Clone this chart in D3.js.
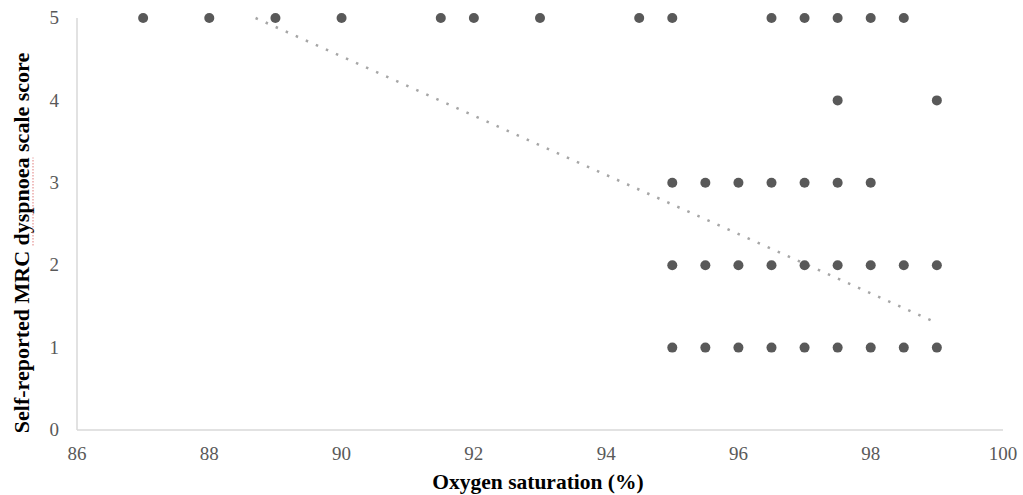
<!DOCTYPE html>
<html>
<head>
<meta charset="utf-8">
<script src="https://cdn.jsdelivr.net/npm/d3@7"></script>
<style>
  body { margin: 0; background: #fff; }
  text { font-family: "Liberation Serif", "Times New Roman", serif; }
</style>
</head>
<body>
<svg id="chart" width="1023" height="495"></svg>
<script>
// oxygen saturation (%) vs MRC score
var score5 = [87, 88, 89, 90, 91.5, 92, 93, 94.5, 95, 96.5, 97, 97.5, 98, 98.5];
var score4 = [97.5, 99];
var score3 = [95, 95.5, 96, 96.5, 97, 97.5, 98];
var score2 = [95, 95.5, 96, 96.5, 97, 97.5, 98, 98.5, 99];
var score1 = [95, 95.5, 96, 96.5, 97, 97.5, 98, 98.5, 99];

// linear trendline end points (dotted)
var trendX = [88.7, 99];
var trendY = [5, 1.3];

var xTicks = [86, 88, 90, 92, 94, 96, 98, 100];
var yTicks = [0, 1, 2, 3, 4, 5];

var svg = d3.select("#chart");

var x = d3.scaleLinear().domain([86, 100]).range([77, 1003]);
var y = d3.scaleLinear().domain([0, 5]).range([430, 18]);

var points = [];
[[5, score5], [4, score4], [3, score3], [2, score2], [1, score1]].forEach(function(row) {
  row[1].forEach(function(v) { points.push({x: v, y: row[0]}); });
});

// axis lines
var axisColor = "#d9d9d9";
svg.append("line")
    .attr("x1", x(86)).attr("x2", x(86))
    .attr("y1", y(5)).attr("y2", y(0))
    .attr("stroke", axisColor).attr("stroke-width", 1.5);
svg.append("line")
    .attr("x1", x(86)).attr("x2", x(100))
    .attr("y1", y(0)).attr("y2", y(0))
    .attr("stroke", axisColor).attr("stroke-width", 1.5);

// tick labels
svg.append("g").selectAll("text")
    .data(xTicks)
    .enter().append("text")
    .attr("x", function(d) { return x(d); })
    .attr("y", 460)
    .attr("text-anchor", "middle")
    .attr("font-size", 19)
    .attr("fill", "#595959")
    .text(function(d) { return d; });

svg.append("g").selectAll("text")
    .data(yTicks)
    .enter().append("text")
    .attr("x", 59)
    .attr("y", function(d) { return y(d); })
    .attr("dy", "0.33em")
    .attr("text-anchor", "end")
    .attr("font-size", 19)
    .attr("fill", "#595959")
    .text(function(d) { return d; });

// trendline
var trend = trendX.map(function(v, i) { return [x(v), y(trendY[i])]; });
svg.append("path")
    .attr("d", d3.line()(trend))
    .attr("fill", "none")
    .attr("stroke", "#a6a6a6")
    .attr("stroke-width", 2.5)
    .attr("stroke-dasharray", "2.5,8.5");

// points
svg.append("g").selectAll("circle")
    .data(points)
    .enter().append("circle")
    .attr("cx", function(d) { return x(d.x); })
    .attr("cy", function(d) { return y(d.y); })
    .attr("r", 5)
    .attr("fill", "#595959");

// axis titles
svg.append("text")
    .attr("x", 538)
    .attr("y", 489)
    .attr("text-anchor", "middle")
    .attr("font-size", 21.5)
    .attr("font-weight", "bold")
    .attr("fill", "#000")
    .text("Oxygen saturation (%)");

var tx = 29, ty = 243;
var yTitle = svg.append("text")
    .attr("transform", "translate(" + tx + "," + ty + ") rotate(-90)")
    .attr("text-anchor", "middle")
    .attr("font-size", 22)
    .attr("font-weight", "bold")
    .attr("fill", "#000");
var part1 = yTitle.append("tspan").text("Self-reported MRC ");
var part2 = yTitle.append("tspan").text("dyspnoea");
yTitle.append("tspan").text(" scale score");

// spell-check squiggle under "dyspnoea"
var total = yTitle.node().getComputedTextLength();
var w1 = part1.node().getComputedTextLength();
var w2 = part2.node().getComputedTextLength();
var start = ty + total / 2 - w1;
svg.append("line")
    .attr("x1", tx + 4).attr("x2", tx + 4)
    .attr("y1", start).attr("y2", start - w2)
    .attr("stroke", "#e07070")
    .attr("stroke-width", 1.5)
    .attr("stroke-dasharray", "1.5,1.5")
    .attr("opacity", 0.6);
</script>
</body>
</html>
